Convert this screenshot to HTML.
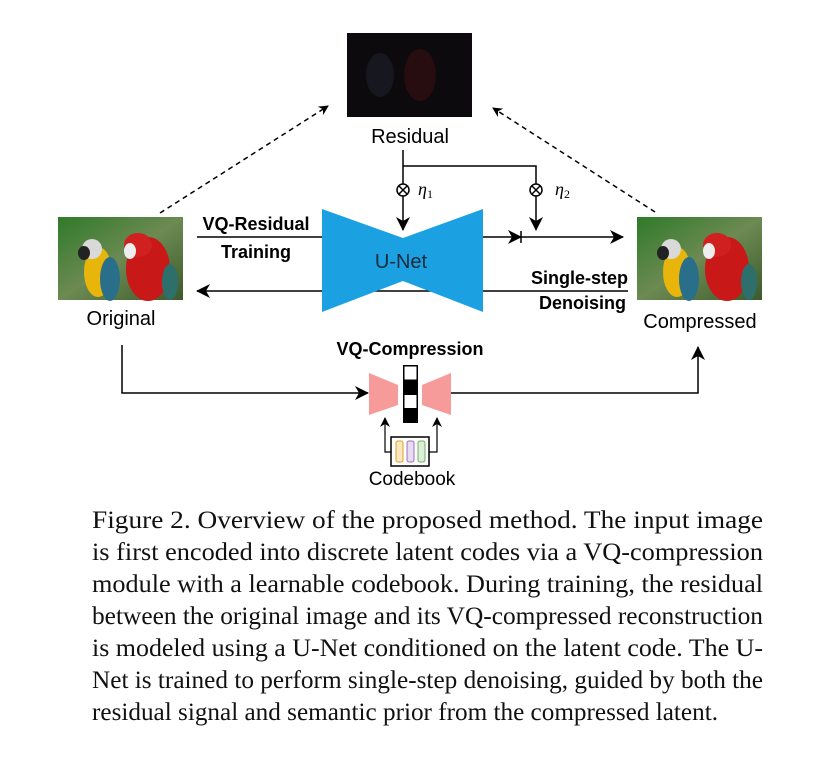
<!DOCTYPE html>
<html><head><meta charset="utf-8"><style>
html,body{margin:0;padding:0;background:#fff;}
svg{display:block;}
.s{font-family:"Liberation Sans",sans-serif;}
.c{font-family:"Liberation Serif",serif;font-size:25px;fill:#111;}
</style></head><body>
<svg width="821" height="762" viewBox="0 0 821 762" xmlns="http://www.w3.org/2000/svg">
<defs>
<marker id="a" markerWidth="10" markerHeight="10" refX="9" refY="5" orient="auto" markerUnits="userSpaceOnUse"><path d="M0,0 L10,5 L0,10 L3,5 Z" fill="#000"/></marker>
<marker id="b" markerWidth="14" markerHeight="14" refX="13" refY="7" orient="auto" markerUnits="userSpaceOnUse"><path d="M0,0 L14,7 L0,14 L4,7 Z" fill="#000"/></marker>
<linearGradient id="bg" x1="0" y1="0" x2="1" y2="1"><stop offset="0" stop-color="#2f7a2a"/><stop offset=".5" stop-color="#6c8a52"/><stop offset="1" stop-color="#3c5a2c"/></linearGradient>
<g id="parrot">
<rect width="125" height="83" fill="url(#bg)"/>
<ellipse cx="40" cy="55" rx="14" ry="25" fill="#e8b60a"/>
<ellipse cx="52" cy="62" rx="10" ry="22" fill="#2a6f8a"/>
<ellipse cx="34" cy="32" rx="10" ry="10" fill="#d9d9d9"/>
<ellipse cx="26" cy="36" rx="6" ry="7" fill="#222"/>
<ellipse cx="90" cy="52" rx="22" ry="32" fill="#c81818"/>
<ellipse cx="80" cy="28" rx="14" ry="12" fill="#d02020"/>
<ellipse cx="72" cy="34" rx="6" ry="8" fill="#eeeeee"/>
<ellipse cx="112" cy="65" rx="8" ry="18" fill="#2d6f6a"/>
</g>
</defs>

<rect x="347" y="33" width="125" height="84" fill="#0c0a0c"/>
<ellipse cx="380" cy="75" rx="14" ry="22" fill="#1a1a26" opacity=".8"/>
<ellipse cx="420" cy="75" rx="16" ry="26" fill="#2a0d10" opacity=".9"/>
<text x="410" y="143" class="s" font-size="20" text-anchor="middle">Residual</text>

<use href="#parrot" x="58" y="217"/>
<use href="#parrot" x="637" y="217"/>
<text x="121" y="325" class="s" font-size="20" text-anchor="middle">Original</text>
<text x="700" y="328" class="s" font-size="20" text-anchor="middle">Compressed</text>

<line x1="160" y1="213" x2="328" y2="106" stroke="#000" stroke-width="1.5" stroke-dasharray="5,4" marker-end="url(#a)"/>
<line x1="655" y1="212" x2="493" y2="108" stroke="#000" stroke-width="1.5" stroke-dasharray="5,4" marker-end="url(#a)"/>

<path d="M403,150 V230" stroke="#000" stroke-width="1.5" fill="none" marker-end="url(#b)"/>
<path d="M403,166 H536 V230" stroke="#000" stroke-width="1.5" fill="none" marker-end="url(#b)"/>
<g stroke="#000" stroke-width="1.5" fill="#fff">
<circle cx="403" cy="190" r="6"/><circle cx="536" cy="190" r="6"/>
<path d="M399,186 L407,194 M407,186 L399,194"/><path d="M532,186 L540,194 M540,186 L532,194"/>
</g>
<text x="418" y="195" font-family="Liberation Serif,serif" font-style="italic" font-size="18">η<tspan font-style="normal" font-size="12" dy="3">1</tspan></text>
<text x="555" y="195" font-family="Liberation Serif,serif" font-style="italic" font-size="18">η<tspan font-style="normal" font-size="12" dy="3">2</tspan></text>

<line x1="197" y1="237" x2="322" y2="237" stroke="#000" stroke-width="1.5"/>
<line x1="483" y1="237" x2="521" y2="237" stroke="#000" stroke-width="1.5" marker-end="url(#b)"/>
<line x1="521" y1="231" x2="521" y2="243" stroke="#000" stroke-width="1.5"/>
<line x1="521" y1="237" x2="623" y2="237" stroke="#000" stroke-width="1.5" marker-end="url(#b)"/>
<line x1="628" y1="291" x2="197" y2="291" stroke="#000" stroke-width="1.5" marker-end="url(#b)"/>

<polygon points="322,209 403,238 483,209 483,312 403,281 322,312" fill="#1ba1e2"/>
<text x="401" y="268" class="s" font-size="20" text-anchor="middle" fill="#1a2a3a">U-Net</text>

<text x="256" y="230" class="s" font-size="18" font-weight="bold" text-anchor="middle">VQ-Residual</text>
<text x="256" y="258" class="s" font-size="18" font-weight="bold" text-anchor="middle">Training</text>
<text x="628" y="284" class="s" font-size="18" font-weight="bold" text-anchor="end">Single-step</text>
<text x="626" y="309" class="s" font-size="18" font-weight="bold" text-anchor="end">Denoising</text>

<text x="410" y="355" class="s" font-size="18" font-weight="bold" text-anchor="middle">VQ-Compression</text>
<path d="M122,345 V393 H368" stroke="#000" stroke-width="1.5" fill="none" marker-end="url(#b)"/>
<path d="M451,393 H698 V347" stroke="#000" stroke-width="1.5" fill="none" marker-end="url(#b)"/>
<polygon points="369,373 398,385 398,405 369,415" fill="#f69a9a"/>
<polygon points="422,385 451,373 451,415 422,405" fill="#f69a9a"/>
<rect x="403" y="365" width="15" height="58" fill="#000"/>
<rect x="404.5" y="366.5" width="12" height="13" fill="#fff"/>
<rect x="404.5" y="395" width="12" height="13" fill="#fff"/>
<path d="M391,452 H385 V418" stroke="#000" stroke-width="1.2" fill="none" marker-end="url(#a)"/>
<path d="M429,452 H437 V418" stroke="#000" stroke-width="1.2" fill="none" marker-end="url(#a)"/>
<rect x="391" y="437" width="38" height="29" fill="#fff" stroke="#000" stroke-width="1.5"/>
<rect x="396" y="441" width="7" height="21" rx="2" fill="#fde8c0" stroke="#e0a020"/>
<rect x="407" y="441" width="7" height="21" rx="2" fill="#e8dcf0" stroke="#9a70c0"/>
<rect x="418" y="441" width="7" height="21" rx="2" fill="#dcefd8" stroke="#70b060"/>
<text x="412" y="485" class="s" font-size="19" text-anchor="middle">Codebook</text>

<text class="c" x="92" y="528" textLength="671" lengthAdjust="spacingAndGlyphs">Figure 2. Overview of the proposed method. The input image</text>
<text class="c" x="92" y="560" textLength="671" lengthAdjust="spacingAndGlyphs">is first encoded into discrete latent codes via a VQ-compression</text>
<text class="c" x="92" y="592" textLength="671" lengthAdjust="spacingAndGlyphs">module with a learnable codebook. During training, the residual</text>
<text class="c" x="92" y="624" textLength="671" lengthAdjust="spacingAndGlyphs">between the original image and its VQ-compressed reconstruction</text>
<text class="c" x="92" y="656" textLength="671" lengthAdjust="spacingAndGlyphs">is modeled using a U-Net conditioned on the latent code. The U-</text>
<text class="c" x="92" y="688" textLength="671" lengthAdjust="spacingAndGlyphs">Net is trained to perform single-step denoising, guided by both the</text>
<text class="c" x="92" y="720" textLength="626" lengthAdjust="spacingAndGlyphs">residual signal and semantic prior from the compressed latent.</text>
</svg>
</body></html>
